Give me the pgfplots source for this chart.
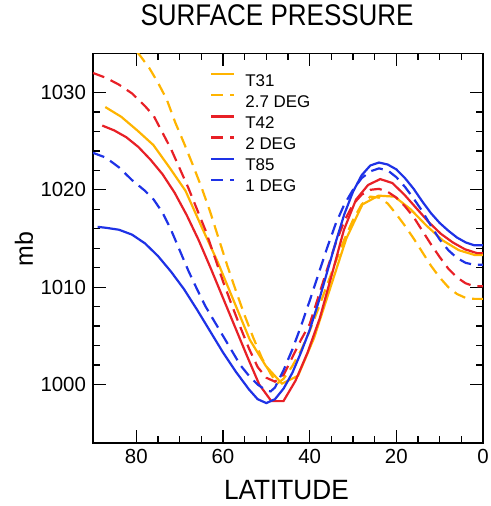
\documentclass[border=0pt]{standalone}
\usepackage{pgfplots}
\pgfplotsset{compat=1.18}
\usepackage{fontspec}
\setmainfont{Liberation Sans}
\usepackage{graphicx}
\definecolor{cOra}{RGB}{255,180,0}
\definecolor{cRed}{RGB}{232,32,38}
\definecolor{cBlu}{RGB}{30,50,230}
\begin{document}
\begin{tikzpicture}
\begin{axis}[
  at={(0,0)}, anchor=south west,
  scale only axis, width=390bp, height=389.5bp,
  xmin=0, xmax=90, x dir=reverse,
  ymin=994, ymax=1034,
  xtick={0,20,40,60,80}, minor x tick num=3,
  ytick={1000,1010,1020,1030}, minor y tick num=4,
  tick align=inside, major tick length=13bp, minor tick length=7bp,
  every tick/.style={black, line width=1.3bp},
  axis line style={line width=1.6bp},
  /pgf/number format/assume math mode=true,
  /pgf/number format/1000 sep={},
  tick label style={font=\fontsize{20.5}{20.5}\selectfont},
  yticklabel style={xshift=-3.5bp},
  xticklabel style={yshift=-2.5bp},
  title={\scalebox{0.87}[1]{SURFACE PRESSURE}},
  title style={font=\fontsize{30}{30}\selectfont, at={(axis description cs:0.472,1.083)}, anchor=center, inner sep=0pt},
  xlabel={\scalebox{0.94}[1]{LATITUDE}},
  xlabel style={font=\fontsize{28}{28}\selectfont, at={(axis description cs:0.496,-0.121)}, anchor=center, inner sep=0pt},
  ylabel={mb},
  ylabel style={font=\fontsize{25}{25}\selectfont, at={(axis description cs:-0.177,0.498)}, anchor=center, inner sep=0pt},
  legend cell align=left,
  legend style={at={(axis description cs:0.30,0.950)}, anchor=north west, draw=none, fill=none, inner sep=0pt,
    font=\fontsize{17}{17}\selectfont, row sep=8bp, column sep=10bp,
    nodes={inner sep=0pt, text height=12bp, text depth=0bp}},
  legend image code/.code={\draw[#1] (0bp,6bp) -- (23bp,6bp);},
  every axis plot/.append style={line width=2.2bp, mark=none},
  dsh/.style={dash pattern=on 12bp off 7bp},
]
% T31
\addplot[cOra] coordinates {
(87.16,1028.5)(83.48,1027.5)(79.78,1026.1)(76.07,1024.6)(72.36,1022.3)(68.65,1019.9)
(64.94,1016.2)(61.23,1012.6)(57.52,1008.6)(53.81,1004.6)(50.10,1001.9)(46.39,1000.1)
(42.68,1000.9)(38.97,1004.8)(35.26,1009.9)(31.54,1015.0)(27.83,1018.5)(24.12,1019.4)
(20.41,1019.3)(16.70,1018.0)(12.99,1016.3)(9.28,1014.8)(5.57,1013.8)(1.86,1013.3)(0,1013.3)};
\addlegendentry{T31}
% 2.7 DEG
\addplot[cOra, dsh] coordinates {
(90,1037.6)(87,1037.1)(84,1036.1)(81,1034.8)(79,1033.7)(77,1032.5)(75,1031.0)(73,1029.3)
(71,1026.9)(69,1024.8)(67,1022.6)(65,1020.3)(63,1017.8)(61,1015.0)(59,1012.2)(57,1009.6)
(55,1007.1)(53,1004.8)(51,1002.7)(49,1001.1)(47.5,1000.1)(46,1000.6)(44,1001.9)(42,1003.5)
(40,1005.5)(38,1007.8)(36,1010.2)(34,1012.6)(32,1014.9)(30,1016.9)(28,1018.5)(26,1019.3)
(24,1019.2)(22,1018.6)(20,1017.5)(18,1016.3)(16,1015.0)(14,1013.6)(12,1012.2)(10,1011.0)
(8,1010.0)(6,1009.3)(4,1008.9)(2,1008.8)(0,1008.8)};
\addlegendentry{2.7 DEG}
% T42
\addplot[cRed] coordinates {
(87.86,1026.6)(85.10,1026.1)(82.31,1025.4)(79.53,1024.4)(76.74,1023.1)(73.95,1021.6)
(71.16,1019.7)(68.37,1017.4)(65.58,1014.8)(62.79,1011.9)(60.00,1008.9)(57.21,1005.9)
(54.42,1002.9)(51.63,1000.0)(48.84,998.3)(46.05,998.3)(43.26,1000.4)(40.47,1003.3)
(37.67,1006.8)(34.88,1011.3)(32.09,1015.9)(29.30,1019.0)(26.51,1020.5)(23.72,1021.1)
(20.93,1020.7)(18.14,1019.5)(15.35,1018.1)(12.56,1016.7)(9.77,1015.5)(6.98,1014.6)
(4.19,1013.9)(1.40,1013.5)(0,1013.5)};
\addlegendentry{T42}
% 2 DEG
\addplot[cRed, dsh] coordinates {
(90,1032.0)(87,1031.5)(84,1030.8)(81,1029.9)(78,1028.6)(76,1027.6)(74,1025.9)(72,1024.2)
(70,1022.2)(68,1020.2)(66,1018.0)(64,1015.8)(62,1013.2)(60,1010.6)(58,1008.2)(56,1005.9)
(54,1003.7)(52,1001.8)(50,1000.7)(48,1000.3)(46,1001.0)(44,1002.8)(42,1004.6)(40,1006.2)
(38,1009.0)(36,1011.8)(34,1014.5)(32,1016.8)(30,1018.5)(28,1019.5)(26,1020.0)(24,1020.1)
(22,1019.8)(20,1019.2)(18,1018.3)(16,1017.2)(14,1015.8)(12,1014.4)(10,1013.1)(8,1011.9)
(6,1011.0)(4,1010.4)(2,1010.1)(0,1010.1)};
\addlegendentry{2 DEG}
% T85
\addplot[cBlu] coordinates {
(88.93,1016.2)(87,1016.1)(84,1015.9)(81,1015.4)(78,1014.5)(75,1013.2)(72,1011.6)(69,1009.8)
(66,1007.7)(63,1005.5)(60,1003.3)(57,1001.3)(54,999.5)(52,998.5)(50,998.1)(48,998.5)
(46,999.6)(44,1001.2)(42,1003.3)(40,1005.6)(38,1008.4)(36,1011.5)(34,1014.6)(32,1017.5)
(30,1019.8)(28,1021.5)(26,1022.5)(24,1022.8)(22,1022.6)(20,1022.1)(18,1021.2)(16,1020.1)
(14,1018.8)(12,1017.6)(10,1016.6)(8,1015.8)(6,1015.1)(4,1014.6)(2,1014.3)(0,1014.3)};
\addlegendentry{T85}
% 1 DEG
\addplot[cBlu, dsh] coordinates {
(90,1023.8)(87,1023.3)(84,1022.3)(81,1021.0)(78,1019.9)(76,1019.0)(74,1017.7)(72,1015.9)
(70,1013.8)(68,1011.7)(66,1009.8)(64,1008.0)(62,1006.5)(60,1005.0)(58,1003.5)(56,1002.0)
(54,1000.9)(52,1000.0)(50,999.4)(49,999.3)(48,999.7)(46,1001.5)(44,1003.6)(42,1006.0)
(40,1008.6)(38,1011.3)(36,1014.0)(34,1016.5)(32,1018.5)(30,1020.0)(28,1021.2)(26,1021.9)
(24,1022.2)(22,1022.0)(20,1021.3)(18,1020.3)(16,1019.1)(14,1017.8)(12,1016.3)(10,1014.9)
(8,1013.8)(6,1013.0)(4,1012.5)(2,1012.3)(0,1012.3)};
\addlegendentry{1 DEG}
\end{axis}
\pgfresetboundingbox
\path[use as bounding box] (-93bp,-63bp) rectangle (398bp,443bp);
\end{tikzpicture}
\end{document}
